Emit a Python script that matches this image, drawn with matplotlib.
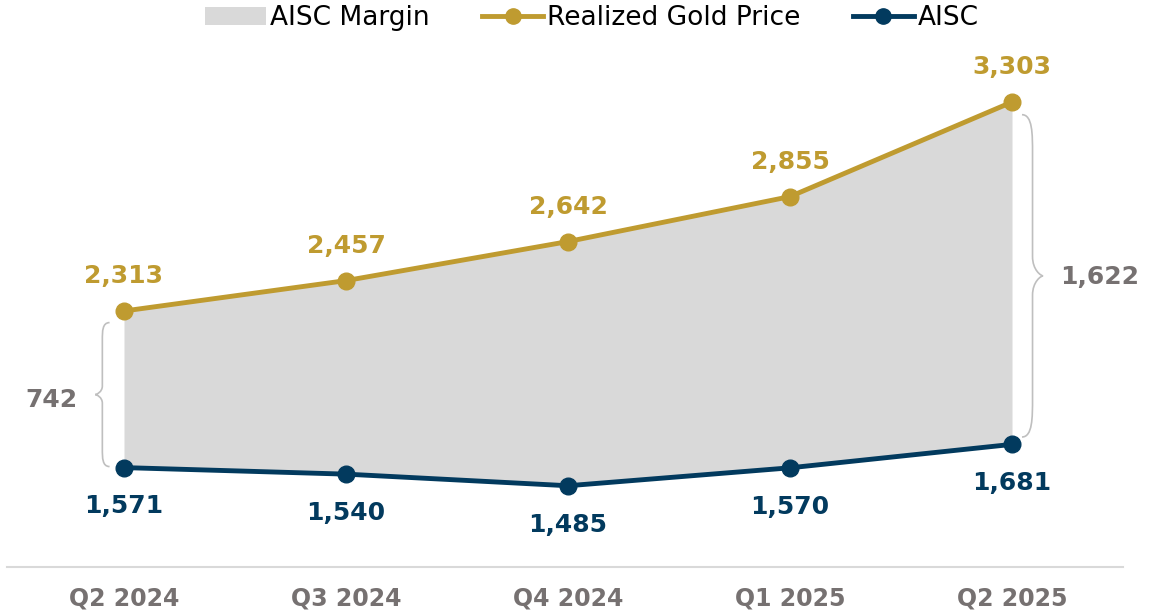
import matplotlib
matplotlib.use('Agg')
import matplotlib.pyplot as plt
from matplotlib.path import Path
from matplotlib.patches import PathPatch, Patch
from matplotlib.lines import Line2D
import numpy as np

quarters = ['Q2 2024', 'Q3 2024', 'Q4 2024', 'Q1 2025', 'Q2 2025']
gold_price = [2313, 2457, 2642, 2855, 3303]
aisc = [1571, 1540, 1485, 1570, 1681]
margin_first = 742
margin_last = 1622

GOLD = '#BF9B30'
NAVY = '#023A5E'
FILL = '#D9D9D9'
GREY_TXT = '#767171'
BRACE = '#BFBFBF'

plt.rcParams['font.family'] = ['DejaVu Sans']

fig = plt.figure(figsize=(11.66, 6.13), dpi=100)
ax = fig.add_axes([7 / 1166, 46 / 613, 1116 / 1166, 527 / 613])

x = np.arange(len(quarters))
ax.fill_between(x, aisc, gold_price, color=FILL, linewidth=0, zorder=1)
ax.plot(x, gold_price, color=GOLD, lw=3.5, marker='o', ms=12, zorder=3)
ax.plot(x, aisc, color=NAVY, lw=3.5, marker='o', ms=12, zorder=3)

for xi, v in zip(x, gold_price):
    ax.annotate(f'{v:,}', (xi, v), xytext=(0, 25), textcoords='offset points',
                ha='center', va='center', fontsize=18, fontweight='bold', color=GOLD)
for xi, v in zip(x, aisc):
    ax.annotate(f'{v:,}', (xi, v), xytext=(0, -28), textcoords='offset points',
                ha='center', va='center', fontsize=18, fontweight='bold', color=NAVY)


def brace(ax, x0, y_top, y_bot, width, side):
    # "{" shape; side=-1 tip points left, +1 tip points right
    ym = (y_top + y_bot) / 2
    w = width * side
    h = (y_top - y_bot)
    c = 0.06 * h
    verts = [
        (x0, y_top),
        (x0 + w * 0.5, y_top), (x0 + w * 0.5, y_top - c), (x0 + w * 0.5, y_top - 2 * c),
        (x0 + w * 0.5, ym + c),
        (x0 + w * 0.5, ym + 0.3 * c), (x0 + w * 0.9, ym), (x0 + w, ym),
        (x0 + w * 0.9, ym), (x0 + w * 0.5, ym - 0.3 * c), (x0 + w * 0.5, ym - c),
        (x0 + w * 0.5, y_bot + 2 * c),
        (x0 + w * 0.5, y_bot + c), (x0 + w * 0.5, y_bot), (x0, y_bot),
    ]
    codes = [Path.MOVETO,
             Path.CURVE4, Path.CURVE4, Path.CURVE4,
             Path.LINETO,
             Path.CURVE4, Path.CURVE4, Path.CURVE4,
             Path.CURVE4, Path.CURVE4, Path.CURVE4,
             Path.LINETO,
             Path.CURVE4, Path.CURVE4, Path.CURVE4]
    ax.add_patch(PathPatch(Path(verts, codes), fill=False, edgecolor=BRACE, lw=1.2,
                           zorder=2, clip_on=False))


brace(ax, -0.065, gold_price[0] - 55, aisc[0] + 5, 0.065, -1)
ax.text(-0.325, 1890, f'{margin_first:,}', ha='center',
        va='center', fontsize=18, fontweight='bold', color=GREY_TXT)
brace(ax, 4.045, gold_price[-1] - 60, aisc[-1] + 35, 0.095, 1)
ax.text(4.396, 2474, f'{margin_last:,}', ha='center',
        va='center', fontsize=18, fontweight='bold', color=GREY_TXT)

ax.set_xlim(-0.527, 4.5)
ax.set_ylim(1100, 3597)
ax.set_xticks(x)
ax.set_xticklabels(quarters, fontsize=17, fontweight='bold', color=GREY_TXT)
ax.tick_params(axis='x', length=0, pad=14)
ax.set_yticks([])
for s in ['top', 'left', 'right']:
    ax.spines[s].set_visible(False)
ax.spines['bottom'].set_color('#D9D9D9')
ax.spines['bottom'].set_linewidth(1.5)

handles = [
    Patch(facecolor=FILL, edgecolor='none', label='AISC Margin'),
    Line2D([], [], color=GOLD, lw=3.5, marker='o', ms=11, label='Realized Gold Price'),
    Line2D([], [], color=NAVY, lw=3.5, marker='o', ms=11, label='AISC'),
]
fig.legend(handles=handles, loc='center', bbox_to_anchor=(592 / 1166, 1 - 18 / 613),
           ncol=3, frameon=False, fontsize=19, handlelength=2.3, handletextpad=0.15,
           columnspacing=2.0, handleheight=0.7, borderpad=0)

fig.savefig('out.png', dpi=100, facecolor='white')
